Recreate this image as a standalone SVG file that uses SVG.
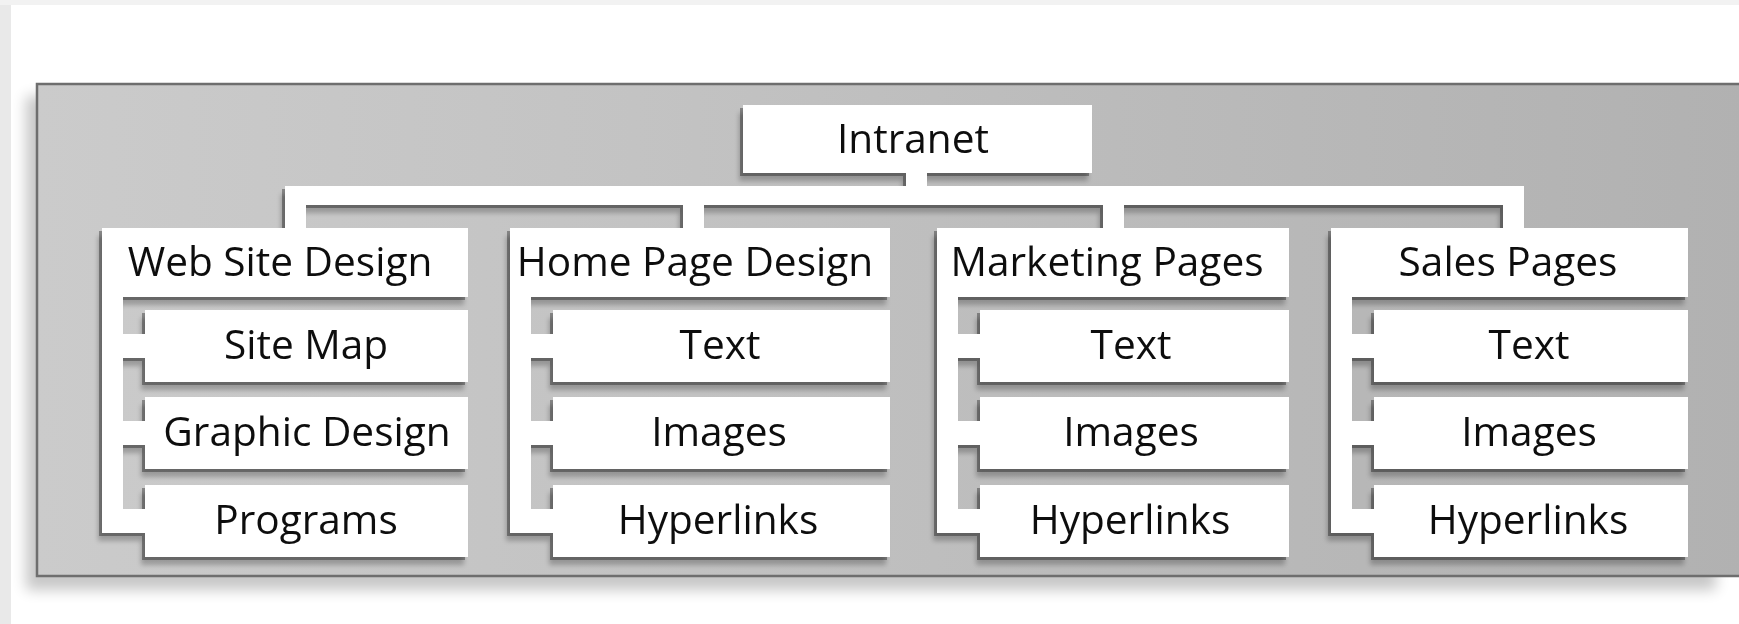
<svg xmlns="http://www.w3.org/2000/svg" width="1739" height="624" viewBox="0 0 1739 624">
<defs>
<linearGradient id="panelFill" x1="0" y1="0" x2="1" y2="0">
<stop offset="0" stop-color="#cbcbcb"/>
<stop offset="0.35" stop-color="#c3c3c3"/>
<stop offset="0.7" stop-color="#b9b9b9"/>
<stop offset="1" stop-color="#b1b1b1"/>
</linearGradient>
<filter id="panelShadow" x="-5%" y="-10%" width="110%" height="130%">
<feGaussianBlur stdDeviation="7"/>
</filter>
<filter id="sh" x="-5%" y="-5%" width="110%" height="115%">
<feOffset in="SourceAlpha" dx="-4" dy="8" result="o1"/>
<feGaussianBlur in="o1" stdDeviation="2.5" result="b1"/>
<feComponentTransfer in="b1" result="s1"><feFuncA type="linear" slope="0.24"/></feComponentTransfer>
<feOffset in="SourceAlpha" dx="-3" dy="3" result="o2"/>
<feComponentTransfer in="o2" result="s2"><feFuncA type="linear" slope="0.33"/></feComponentTransfer>
<feMerge><feMergeNode in="s1"/><feMergeNode in="s2"/><feMergeNode in="SourceGraphic"/></feMerge>
</filter>
</defs>
<style>
.w{fill:#ffffff;}
.t{font-family:"Open Sans","Noto Sans","Liberation Sans",sans-serif;font-size:40.6px;fill:#111111;text-anchor:middle;}
</style>
<rect x="0" y="0" width="1739" height="624" fill="#ffffff"/>
<rect x="0" y="0" width="11" height="624" fill="#e9e9e9"/>
<rect x="0" y="0" width="1739" height="5" fill="#f2f2f2"/>
<rect x="26" y="96" width="1690" height="494" fill="#000000" opacity="0.22" filter="url(#panelShadow)"/>
<rect x="37" y="84" width="1710" height="492" fill="url(#panelFill)" stroke="#6e6e6e" stroke-width="2.5"/>
<g filter="url(#sh)">
<g id="connectors" class="w">
<rect x="906" y="170" width="21" height="20"/>
<rect x="285" y="186" width="1239" height="19"/>
<rect x="285" y="186" width="21" height="45"/>
<rect x="683" y="186" width="21" height="45"/>
<rect x="1103" y="186" width="21" height="45"/>
<rect x="1503" y="186" width="21" height="45"/>
<rect x="102" y="290" width="21" height="243"/>
<rect x="120" y="334" width="28" height="24"/>
<rect x="120" y="421" width="28" height="24"/>
<rect x="120" y="509" width="28" height="24"/>
<rect x="510" y="290" width="21" height="243"/>
<rect x="528" y="334" width="28" height="24"/>
<rect x="528" y="421" width="28" height="24"/>
<rect x="528" y="509" width="28" height="24"/>
<rect x="937" y="290" width="21" height="243"/>
<rect x="955" y="334" width="28" height="24"/>
<rect x="955" y="421" width="28" height="24"/>
<rect x="955" y="509" width="28" height="24"/>
<rect x="1331" y="290" width="21" height="243"/>
<rect x="1349" y="334" width="28" height="24"/>
<rect x="1349" y="421" width="28" height="24"/>
<rect x="1349" y="509" width="28" height="24"/>
</g>
<g id="intranet"><rect class="w" x="743" y="105" width="349" height="68"/><text class="t" x="913" y="153">Intranet</text></g>
<g id="web-site-design"><rect class="w" x="102" y="228" width="366" height="69"/><text class="t" x="280" y="276">Web Site Design</text></g>
<g id="site-map"><rect class="w" x="145" y="310" width="323" height="72"/><text class="t" x="306" y="359">Site Map</text></g>
<g id="graphic-design"><rect class="w" x="145" y="397" width="323" height="72"/><text class="t" x="307" y="446">Graphic Design</text></g>
<g id="programs"><rect class="w" x="145" y="485" width="323" height="72"/><text class="t" x="306" y="534">Programs</text></g>
<g id="home-page-design"><rect class="w" x="510" y="228" width="380" height="69"/><text class="t" x="695" y="276">Home Page Design</text></g>
<g id="home-text"><rect class="w" x="553" y="310" width="337" height="72"/><text class="t" x="720" y="359">Text</text></g>
<g id="home-images"><rect class="w" x="553" y="397" width="337" height="72"/><text class="t" x="719" y="446">Images</text></g>
<g id="home-hyperlinks"><rect class="w" x="553" y="485" width="337" height="72"/><text class="t" x="718" y="534">Hyperlinks</text></g>
<g id="marketing-pages"><rect class="w" x="937" y="228" width="352" height="69"/><text class="t" x="1107" y="276">Marketing Pages</text></g>
<g id="marketing-text"><rect class="w" x="980" y="310" width="309" height="72"/><text class="t" x="1131" y="359">Text</text></g>
<g id="marketing-images"><rect class="w" x="980" y="397" width="309" height="72"/><text class="t" x="1131" y="446">Images</text></g>
<g id="marketing-hyperlinks"><rect class="w" x="980" y="485" width="309" height="72"/><text class="t" x="1130" y="534">Hyperlinks</text></g>
<g id="sales-pages"><rect class="w" x="1331" y="228" width="357" height="69"/><text class="t" x="1508" y="276">Sales Pages</text></g>
<g id="sales-text"><rect class="w" x="1374" y="310" width="314" height="72"/><text class="t" x="1529" y="359">Text</text></g>
<g id="sales-images"><rect class="w" x="1374" y="397" width="314" height="72"/><text class="t" x="1529" y="446">Images</text></g>
<g id="sales-hyperlinks"><rect class="w" x="1374" y="485" width="314" height="72"/><text class="t" x="1528" y="534">Hyperlinks</text></g>
</g>
</svg>
